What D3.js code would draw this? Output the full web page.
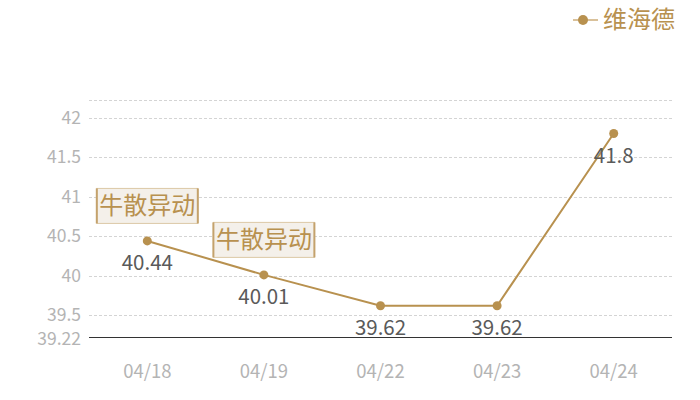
<!DOCTYPE html>
<html><head><meta charset="utf-8">
<script src="https://cdn.jsdelivr.net/npm/d3@7"></script>
<style>body{margin:0;background:#fff}svg{display:block}text{font-family:"Noto Sans CJK SC","Noto Sans",sans-serif}</style>
</head><body><svg id="c" width="700" height="400"></svg>
<script>
const categories = ["04/18","04/19","04/22","04/23","04/24"];
const values = [40.44, 40.01, 39.62, 39.62, 41.8];
const seriesName = "维海德";
const yTicks = [39.5, 40, 40.5, 41, 41.5, 42];
const yMin = 39.22, yMax = 42.22;
const annotations = [{cat:"04/18", text:"牛散异动"}, {cat:"04/19", text:"牛散异动"}];

const gold = "#b8914f";
const svg = d3.select("#c");
const x = d3.scaleBand().domain(categories).range([89, 672]);
const y = d3.scaleLinear().domain([yMin, yMax]).range([337.3, 100.3]);
const cx = d => x(d) + x.bandwidth()/2;

// grid
const grid = yTicks.concat([yMax]);
svg.append("g").selectAll("line").data(grid).join("line")
  .attr("x1", 89).attr("x2", 672).attr("y1", d => Math.round(y(d))+0.5).attr("y2", d => Math.round(y(d))+0.5)
  .attr("stroke", "#d4d4d4").attr("stroke-dasharray", "3,2").attr("stroke-width", 1);

// baseline
svg.append("line").attr("x1", 89).attr("x2", 672).attr("y1", Math.round(y(yMin))+0.5).attr("y2", Math.round(y(yMin))+0.5)
  .attr("stroke", "#333").attr("stroke-width", 1);

// y labels
svg.append("g").selectAll("text").data(yTicks.concat([yMin])).join("text")
  .attr("x", 81).attr("y", d => y(d) + (d === yMin ? 1.5 : 0)).attr("dy", "0.35em").attr("text-anchor", "end")
  .attr("fill", "#b4b4b4").attr("font-size", 17.5).text(d => d);

// x labels
svg.append("g").selectAll("text").data(categories).join("text")
  .attr("x", d => cx(d)).attr("y", 372).attr("dy", "0.35em").attr("text-anchor", "middle")
  .attr("fill", "#b4b4b4").attr("font-size", 18.5).text(d => d);

// line
const pts = categories.map((c,i) => ({c, v: values[i]}));
svg.append("path").datum(pts)
  .attr("d", d3.line().x(d => cx(d.c)).y(d => y(d.v)))
  .attr("fill", "none").attr("stroke", gold).attr("stroke-width", 2);
svg.append("g").selectAll("circle").data(pts).join("circle")
  .attr("cx", d => cx(d.c)).attr("cy", d => y(d.v)).attr("r", 4.5).attr("fill", gold);

// value labels
svg.append("g").selectAll("text").data(pts).join("text")
  .attr("x", d => cx(d.c)).attr("y", d => y(d.v) + 22).attr("dy", "0.35em").attr("text-anchor", "middle")
  .attr("fill", "#5a5a5a").attr("font-size", 20.5).text(d => d.v);

// annotations
const ag = svg.append("g").selectAll("g").data(annotations).join("g")
  .attr("transform", a => { const v = values[categories.indexOf(a.cat)]; return `translate(${cx(a.cat)},${y(v)-35})`; });
ag.append("rect").attr("x", -50.5).attr("y", -17.5).attr("width", 101).attr("height", 35)
  .attr("fill", "#f4f0ea").attr("stroke", "#dcc8a6").attr("stroke-width", 1);
ag.append("line").attr("x1", -50.5).attr("x2", -50.5).attr("y1", -17.5).attr("y2", 17.5).attr("stroke", "#c4a26c").attr("stroke-width", 2);
ag.append("line").attr("x1", 50.5).attr("x2", 50.5).attr("y1", -17.5).attr("y2", 17.5).attr("stroke", "#c4a26c").attr("stroke-width", 2);
ag.append("text").attr("x", 0).attr("y", 0).attr("dy", "0.35em").attr("text-anchor", "middle")
  .attr("fill", gold).attr("font-size", 24).text(a => a.text);

// legend
const lg = svg.append("g").attr("transform", "translate(573,20)");
lg.append("line").attr("x1", 0).attr("x2", 25).attr("y1", 0).attr("y2", 0).attr("stroke", "#d9c19a").attr("stroke-width", 2);
lg.append("circle").attr("cx", 10).attr("cy", 0).attr("r", 5).attr("fill", gold);
lg.append("text").attr("x", 30).attr("y", 0).attr("dy", "0.35em").attr("fill", gold).attr("font-size", 24).text(seriesName);
</script></body></html>
